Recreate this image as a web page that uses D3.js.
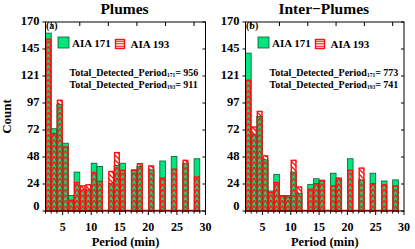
<!DOCTYPE html>
<html>
<head>
<meta charset="utf-8">
<script src="https://cdn.jsdelivr.net/npm/d3@7"></script>
<style>
  body { margin: 0; background: #fff; }
  svg text { font-family: "Liberation Serif", "Times New Roman", serif; font-weight: bold; fill: #000; }
</style>
</head>
<body>
<svg id="chart" width="415" height="249"></svg>
<script>
// bin start of each period bar (min), bins are 1 min wide
const periods = [2, 3, 4, 5, 6, 7, 8, 9, 10, 11, 13, 14, 15, 17, 18, 20, 22, 24, 26, 28];

const plume171 = [160, 74, 96, 61, 14, 35, 19, 19, 43, 40, 25, 41, 43, 37, 40, 37, 45, 49, 43, 47];
const plume193 = [155, 70, 100, 58, 10, 26, 23, 24, 35, 27, 36, 53, 37, 37, 43, 41, 30, 38, 46, 31];

const inter171 = [142, 69, 85, 46, 18, 33, 14, 14, 35, 16, 24, 29, 27, 34, 28, 47, 28, 34, 27, 28];
const inter193 = [118, 76, 90, 50, 17, 26, 14, 13, 46, 22, 20, 25, 28, 23, 30, 37, 39, 25, 24, 23];

const yTickLabels = ["0", "24", "48", "72", "97", "121", "145", "170"];
const xTickLabels = [5, 10, 15, 20, 25, 30];

const panels = [
  { id: "a", title: "Plumes", v171: plume171, v193: plume193, total171: 956, total193: 911, x0: 45.5, x1: 205.5 },
  { id: "b", title: "Inter\u2212Plumes", v171: inter171, v193: inter193, total171: 773, total193: 741, x0: 245.5, x1: 404 },
];

const GREEN = "#00e67f";
const GREEN_EDGE = "#0b5a2c";
const RED = "#ff1010";
const plotTop = 22, plotBottom = 211;

const svg = d3.select("#chart");
const defs = svg.append("defs");

// white background with red diagonal hatch, where only 193 is present
const diag = defs.append("pattern").attr("id", "diag")
  .attr("patternUnits", "userSpaceOnUse").attr("width", 5).attr("height", 5);
diag.append("rect").attr("width", 5).attr("height", 5).attr("fill", "#fff");
diag.append("path").attr("d", "M-1,-1 L6,6 M-1,4 L1,6 M4,-1 L6,1")
  .attr("stroke", RED).attr("stroke-width", 1.3);

// legend pattern: horizontal red lines
const hor = defs.append("pattern").attr("id", "hor")
  .attr("patternUnits", "userSpaceOnUse").attr("width", 4).attr("height", 2.5);
hor.append("rect").attr("width", 4).attr("height", 2.5).attr("fill", "#fff");
hor.append("line").attr("x1", 0).attr("x2", 4).attr("y1", 1.25).attr("y2", 1.25)
  .attr("stroke", RED).attr("stroke-width", 1.1);

const y = d3.scaleLinear().domain([0, 170]).range([plotBottom, plotTop]);
const yTicks = yTickLabels.map((d, i) => i * 170 / 7);

panels.forEach((p) => {
  const x = d3.scaleLinear().domain([2, 30]).range([p.x0, p.x1]);
  const g = svg.append("g");

  // bars
  periods.forEach((per, i) => {
    const bx = x(per), bw = x(per + 1) - x(per);
    const h171 = p.v171[i], h193 = p.v193[i];
    const lo = Math.min(h171, h193);

    const pid = `chev-${p.id}-${i}`;
    const pat = defs.append("pattern").attr("id", pid)
      .attr("patternUnits", "userSpaceOnUse")
      .attr("x", bx).attr("y", plotBottom).attr("width", bw).attr("height", 5.5);
    pat.append("path")
      .attr("d", `M0,5.5 L${bw / 2},0 L${bw},5.5 M${-bw / 2},0 L0,-5.5 M${bw},-5.5 L${bw * 1.5},0 M${-bw / 2},11 L0,5.5 M${bw},5.5 L${bw * 1.5},11`)
      .attr("fill", "none").attr("stroke", RED).attr("stroke-width", 1.2);

    g.append("rect").attr("x", bx).attr("width", bw)
      .attr("y", y(h193)).attr("height", plotBottom - y(h193))
      .attr("fill", "url(#diag)");
    g.append("rect").attr("x", bx).attr("width", bw)
      .attr("y", y(h171)).attr("height", plotBottom - y(h171))
      .attr("fill", GREEN).attr("stroke", GREEN_EDGE).attr("stroke-width", 0.8);
    g.append("rect").attr("x", bx).attr("width", bw)
      .attr("y", y(lo)).attr("height", plotBottom - y(lo))
      .attr("fill", `url(#${pid})`);
    g.append("rect").attr("x", bx + 0.5).attr("width", bw - 1)
      .attr("y", y(h193) + 0.5).attr("height", plotBottom - y(h193) - 0.5)
      .attr("fill", "none").attr("stroke", RED).attr("stroke-width", 1.4);
  });

  // red baseline of the 193 histogram
  g.append("line").attr("x1", x(2)).attr("x2", x(29))
    .attr("y1", plotBottom - 0.5).attr("y2", plotBottom - 0.5)
    .attr("stroke", RED).attr("stroke-width", 1.5);

  // frame
  g.append("rect").attr("x", p.x0).attr("y", plotTop)
    .attr("width", p.x1 - p.x0).attr("height", plotBottom - plotTop)
    .attr("fill", "none").attr("stroke", "#000").attr("stroke-width", 1);

  // y ticks: outward on the left, inward on the right
  yTicks.forEach((v, i) => {
    g.append("line").attr("x1", p.x0 - 3).attr("x2", p.x0).attr("y1", y(v)).attr("y2", y(v))
      .attr("stroke", "#000");
    g.append("line").attr("x1", p.x1 - 3).attr("x2", p.x1).attr("y1", y(v)).attr("y2", y(v))
      .attr("stroke", "#000");
    g.append("text").attr("x", p.x0 - 6).attr("y", y(v) + (i === 0 ? -1 : 2.5))
      .attr("text-anchor", "end").attr("font-size", 12.5).text(yTickLabels[i]);
  });

  // x ticks
  d3.range(2, 31).forEach((v) => {
    const major = v % 5 === 0;
    g.append("line").attr("x1", x(v)).attr("x2", x(v))
      .attr("y1", plotBottom).attr("y2", plotBottom + (major ? 4 : 2.5)).attr("stroke", "#000");
  });
  [3, 8, 13, 18, 23, 28].forEach((v) => {
    g.append("line").attr("x1", x(v)).attr("x2", x(v))
      .attr("y1", plotTop).attr("y2", plotTop + 4).attr("stroke", "#000");
  });
  xTickLabels.forEach((v) => {
    g.append("text").attr("x", x(v)).attr("y", 231)
      .attr("text-anchor", "middle").attr("font-size", 12).text(v);
  });

  // titles and labels
  g.append("text").attr("x", (p.x0 + p.x1) / 2 - 1).attr("y", 13.5)
    .attr("text-anchor", "middle").attr("font-size", 15.5).text(p.title);
  g.append("text").attr("x", (p.x0 + p.x1) / 2).attr("y", 245.5)
    .attr("text-anchor", "middle").attr("font-size", 12.5).text("Period (min)");
  g.append("text").attr("x", p.x0 + 0.5).attr("y", 29)
    .attr("font-size", 10).text(`(${p.id})`);

  // legend
  const lx = p.x0 + 12.5;
  g.append("rect").attr("x", lx).attr("y", 37).attr("width", 11).attr("height", 11)
    .attr("fill", GREEN).attr("stroke", GREEN_EDGE).attr("stroke-width", 0.8);
  g.append("text").attr("x", lx + 14).attr("y", 46.5).attr("font-size", 11).text("AIA 171");
  g.append("rect").attr("x", lx + 57.5).attr("y", 39.5).attr("width", 9).attr("height", 9)
    .attr("fill", "url(#hor)").attr("stroke", RED).attr("stroke-width", 1.4);
  g.append("text").attr("x", lx + 72.5).attr("y", 48).attr("font-size", 11).text("AIA 193");

  [[171, p.total171, 75.5], [193, p.total193, 87.5]].forEach(([ch, tot, ty]) => {
    const t = g.append("text").attr("x", p.x0 + 24).attr("y", ty).attr("font-size", 10);
    t.append("tspan").text("Total_Detected_Period");
    t.append("tspan").attr("font-size", 5.5).attr("dy", 1.5).text(ch);
    t.append("tspan").attr("dy", -1.5).text(`= ${tot}`);
  });
});

svg.append("text").attr("transform", `translate(11,${(plotTop + plotBottom) / 2}) rotate(-90)`)
  .attr("text-anchor", "middle").attr("font-size", 13).text("Count");
</script>
</body>
</html>
